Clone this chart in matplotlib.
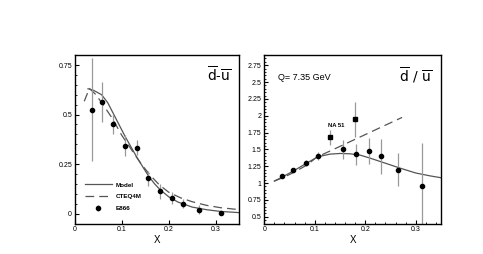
import numpy as np
import matplotlib.pyplot as plt

plt.rcParams['font.family'] = ['Liberation Sans', 'DejaVu Sans']
plt.rcParams['mathtext.fontset'] = 'dejavusans'

# E866 bins
x_e866 = [0.036, 0.057, 0.082, 0.106, 0.132, 0.156, 0.182, 0.207, 0.231, 0.264, 0.312]

# left panel: dbar - ubar
dmu = [0.525, 0.562, 0.452, 0.342, 0.333, 0.178, 0.112, 0.081, 0.051, 0.020, 0.002]
dmu_err = [0.26, 0.10, 0.05, 0.053, 0.039, 0.037, 0.038, 0.030, 0.025, 0.021, 0.005]

model_x = [0.028, 0.04, 0.057, 0.07, 0.082, 0.095, 0.107, 0.12, 0.132, 0.145,
           0.157, 0.17, 0.182, 0.2, 0.22, 0.25, 0.28, 0.31, 0.35]
model_y = [0.63, 0.622, 0.60, 0.56, 0.505, 0.445, 0.39, 0.335, 0.285, 0.235,
           0.19, 0.15, 0.12, 0.085, 0.058, 0.033, 0.02, 0.011, 0.005]
cteq_x = [0.02, 0.031, 0.045, 0.06, 0.08, 0.1, 0.12, 0.14, 0.16, 0.18,
          0.2, 0.225, 0.25, 0.28, 0.31, 0.35]
cteq_y = [0.567, 0.632, 0.60, 0.55, 0.48, 0.395, 0.325, 0.255, 0.195, 0.145,
          0.108, 0.08, 0.06, 0.042, 0.03, 0.02]

# right panel: dbar / ubar
x_ratio = [0.036, 0.057, 0.082, 0.106, 0.156, 0.182, 0.207, 0.231, 0.264, 0.312]
ratio = [1.104, 1.20, 1.30, 1.40, 1.50, 1.43, 1.48, 1.40, 1.20, 0.95]
ratio_err = [0.02, 0.02, 0.05, 0.055, 0.135, 0.155, 0.19, 0.26, 0.25, 0.65]
x_na51 = [0.13, 0.18]
na51 = [1.68, 1.95]
na51_err = [0.11, 0.26]

rmodel_x = [0.02, 0.036, 0.06, 0.085, 0.106, 0.13, 0.15, 0.17, 0.19, 0.21,
            0.23, 0.25, 0.27, 0.3, 0.33, 0.35]
rmodel_y = [1.03, 1.09, 1.19, 1.30, 1.39, 1.43, 1.44, 1.435, 1.415, 1.37,
            1.32, 1.27, 1.22, 1.15, 1.105, 1.08]
rcteq_x = [0.02, 0.04, 0.06, 0.085, 0.104, 0.15, 0.2, 0.24, 0.273]
rcteq_y = [1.03, 1.09, 1.165, 1.27, 1.385, 1.545, 1.72, 1.86, 1.975]

line_c = '#555555'
err_c = '#999999'
dash = (0, (7, 4))

fig = plt.figure(figsize=(4.83, 2.54), dpi=100)
ax1 = fig.add_axes([0.155, 0.120, 0.340, 0.663])
ax2 = fig.add_axes([0.547, 0.120, 0.366, 0.663])

for ax in (ax1, ax2):
    ax.set_xlim(0, 0.35)
    ax.set_xticks([0, 0.1, 0.2, 0.3])
    ax.set_xticklabels(['0', '0.1', '0.2', '0.3'])
    ax.tick_params(which='both', direction='in', labelsize=5, pad=2)
    ax.tick_params(which='major', length=3, width=0.8)
    ax.tick_params(which='minor', length=1.6, width=0.6)
    for s in ax.spines.values():
        s.set_linewidth(1.0)
    ax.set_xlabel('X', fontsize=7, labelpad=1)

# left panel
ax1.plot(model_x, model_y, color=line_c, lw=0.9, label='Model')
ax1.plot(cteq_x, cteq_y, color=line_c, lw=0.9, linestyle=dash, label='CTEQ4M')
ax1.errorbar(x_e866, dmu, yerr=dmu_err, fmt='o', color='black', ms=3.0,
             ecolor=err_c, elinewidth=0.9, capsize=0, label='E866')
ax1.set_ylim(-0.05, 0.8)
ax1.set_yticks([0, 0.25, 0.5, 0.75])
ax1.set_yticklabels(['0', '0.25', '0.5', '0.75'])
ax1.set_yticks(np.arange(-0.05, 0.8, 0.05), minor=True)
ax1.text(0.95, 0.88, r'$\mathrm{\overline{d}}$-$\mathrm{\overline{u}}$',
         transform=ax1.transAxes, ha='right', va='center', fontsize=10)
leg = ax1.legend(loc='upper left', bbox_to_anchor=(0.06, 0.245), frameon=False,
                 fontsize=4.5, handlelength=4.3, handletextpad=0.6,
                 labelspacing=1.0, borderpad=0, borderaxespad=0)
for t in leg.get_texts():
    t.set_fontweight('bold')

# right panel
ax2.plot(rmodel_x, rmodel_y, color=line_c, lw=0.9)
ax2.plot(rcteq_x, rcteq_y, color=line_c, lw=0.9, linestyle=dash)
ax2.errorbar(x_ratio, ratio, yerr=ratio_err, fmt='o', color='black', ms=3.0,
             ecolor=err_c, elinewidth=0.9, capsize=0)
ax2.errorbar(x_na51, na51, yerr=na51_err, fmt='s', color='black', ms=2.8,
             ecolor=err_c, elinewidth=0.9, capsize=0)
ax2.set_ylim(0.4, 2.9)
yt = [0.5, 0.75, 1, 1.25, 1.5, 1.75, 2, 2.25, 2.5, 2.75]
ax2.set_yticks(yt)
ax2.set_yticklabels(['0.5', '0.75', '1', '1.25', '1.5', '1.75', '2', '2.25', '2.5', '2.75'])
ax2.set_yticks(np.arange(0.45, 2.9, 0.05), minor=True)
ax2.set_xticks(np.arange(0, 0.35, 0.02), minor=True)
ax2.text(0.95, 0.88, r'$\mathrm{\overline{d}\ /\ \overline{u}}$',
         transform=ax2.transAxes, ha='right', va='center', fontsize=10)
ax2.text(0.08, 0.865, 'Q= 7.35 GeV', transform=ax2.transAxes,
         ha='left', va='center', fontsize=6.5)
ax2.text(0.127, 1.85, 'NA 51', fontsize=4.2, fontweight='bold',
         ha='left', va='center')

fig.savefig('out.png', dpi=100)
